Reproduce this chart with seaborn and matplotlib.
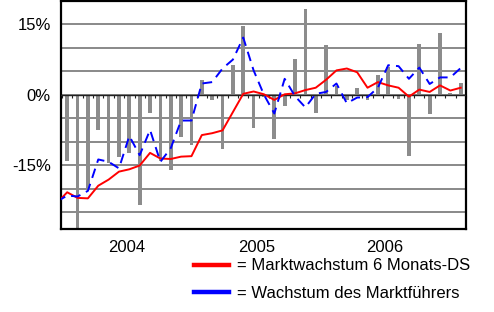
import matplotlib
matplotlib.use("Agg")
import numpy as np
import pandas as pd
import seaborn as sns
import matplotlib.pyplot as plt
from matplotlib.lines import Line2D

# ---- data (percent) ----
# monthly growth bars (months 1..39)
monthly_growth = [-14.1, -31.0, -20.0, -7.6, -14.6, -13.2, -12.5, -23.5, -3.9, -14.2,
                  -16.1, -9.0, -10.8, 3.1, -1.1, -11.5, 6.4, 14.6, -7.1, -0.4,
                  -9.4, -2.5, 7.7, 18.2, -3.9, 10.6, 1.8, -1.2, 1.5, -1.1,
                  4.3, 5.9, -0.9, -13.1, 10.9, -4.1, 13.1, 0.4, 2.5]
# lines (months 0..39, month 0 lies just left of the visible area)
market_6m_avg = [-23.1, -20.8, -22.0, -22.1, -19.4, -18.1, -16.4, -15.9, -15.1, -12.4,
                 -13.6, -13.7, -13.2, -13.1, -8.6, -8.2, -7.6, -3.7, 0.2, 0.7,
                 0.1, -1.1, 0.1, 0.3, 1.0, 1.5, 3.2, 5.2, 5.6, 4.8,
                 1.5, 2.7, 2.0, 1.5, -0.4, 1.1, 0.6, 2.0, 0.9, 1.5]
leader_growth = [-22.8, -21.5, -21.7, -20.5, -13.8, -14.3, -15.7, -8.8, -12.9, -7.5,
                 -14.3, -11.4, -5.5, -5.5, 2.4, 2.7, 5.6, 7.5, 12.2, 5.2,
                 0.0, -4.0, 3.4, -0.3, -2.7, 0.2, 0.6, 2.4, -1.8, -0.6,
                 -0.5, 1.5, 6.3, 6.1, 3.4, 5.8, 2.3, 3.7, 3.7, 5.7]
year_labels = ["2004", "2005", "2006"]
y_tick_labels = {15: "15%", 0: "0%", -15: "-15%"}
legend_labels = ["= Marktwachstum 6 Monats-DS", "= Wachstum des Marktführers"]

bars_df = pd.DataFrame({"month": np.arange(1, len(monthly_growth) + 1),
                        "value": monthly_growth})
lines_df = pd.DataFrame({"month": np.arange(len(market_6m_avg)),
                         "avg": market_6m_avg, "leader": leader_growth})

plt.rcParams["font.family"] = ["Liberation Sans", "DejaVu Sans"]
FS = 12

W, H = 494, 312
fig = plt.figure(figsize=(W / 100, H / 100), dpi=100)
ax = fig.add_axes([60.5 / W, 1 - 229.3 / H, 405.5 / W, 228.3 / H])

sns.barplot(data=bars_df, x="month", y="value", native_scale=True, width=0.36,
            color="#8c8c8c", saturation=1, linewidth=0, errorbar=None, ax=ax,
            zorder=2)
sns.lineplot(data=lines_df, x="month", y="avg", color="#ff0000", lw=1.4, ax=ax,
             zorder=4)
sns.lineplot(data=lines_df, x="month", y="leader", color="#0000ff", lw=1.4,
             linestyle=(0, (5.0, 3.2)), ax=ax, zorder=4)

ax.set_xlim(0.354, 39.51)
ax.set_ylim(-28.7, 20)

yt = np.arange(-25, 20, 5)
ax.set_yticks(yt)
ax.set_yticklabels([y_tick_labels.get(int(v), "") for v in yt], fontsize=FS)
ax.yaxis.grid(True, color="#808080", lw=1.3, zorder=1)
ax.set_axisbelow(True)
ax.tick_params(axis="y", length=0, pad=7)

ax.set_xticks([6.79, 19.32, 31.69])
ax.set_xticklabels(year_labels, fontsize=FS)
ax.tick_params(axis="x", length=0, pad=8)
ax.set_xlabel("")
ax.set_ylabel("")

for s in ax.spines.values():
    s.set_color("black")
    s.set_linewidth(1.6)

# zero line with small category ticks
ax.axhline(0, color="#222222", lw=1.0, zorder=3)
frac = (0 - (-28.7)) / (20 - (-28.7))
sec = ax.secondary_xaxis(frac)
sec.set_xticks(np.arange(0.5, 39.6, 1.0))
sec.tick_params(axis="x", direction="in", length=2.5, width=0.8, color="#222222",
                labeltop=False, labelbottom=False)
for s in sec.spines.values():
    s.set_visible(False)

if ax.get_legend() is not None:
    ax.get_legend().remove()

handles = [Line2D([], [], color="#ff0000", lw=3.2),
           Line2D([], [], color="#0000ff", lw=3.2)]
fig.legend(handles, legend_labels, loc="upper left",
           bbox_to_anchor=(194 / W, 1 - 258.5 / H), frameon=False, fontsize=FS,
           handlelength=2.1, handletextpad=0.5, labelspacing=0.75,
           borderpad=0, borderaxespad=0)

fig.savefig("out.png", dpi=100)
